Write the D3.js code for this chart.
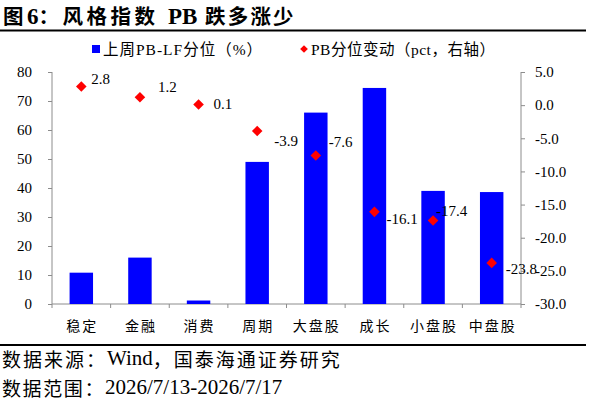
<!doctype html>
<html lang="zh">
<head>
    <meta charset="utf-8"/>
    <title>风格指数 PB 跌多涨少</title>
    <script src="https://d3js.org/d3.v7.min.js"></script>
    <style>
        body { margin: 0; background: #fff; }
        svg { display: block; }
        .serif { font-family: "Liberation Serif", "Noto Sans CJK SC", serif; }
        .cjk { font-family: "Noto Sans CJK SC", "Liberation Serif", sans-serif; }
    </style>
</head>
<body>
<svg id="chart"></svg>

<script>
    // categories and values
    const styles = ["稳定", "金融", "消费", "周期", "大盘股", "成长", "小盘股", "中盘股"];
    const pbPercentile = [10.8, 16.0, 1.2, 49.0, 66.0, 74.5, 39.0, 38.6];
    const pbChange = [2.8, 1.2, 0.1, -3.9, -7.6, -16.1, -17.4, -23.8];
    const leftTicks = [0, 10, 20, 30, 40, 50, 60, 70, 80];
    const rightTicks = [5, 0, -5, -10, -15, -20, -25, -30];

    // where each data label sits relative to its diamond (dx to left edge, dy to middle)
    const labelNudge = [[10, -8], [18, -10], [15, 0], [17, 10], [13, -14], [12, 7], [3, -9], [14, 6]];

    let width = 589,
        height = 401;

    let margin = {left: 52, right: 521, top: 72, bottom: 304};

    // plain hyphen instead of d3's unicode minus, like the original
    let fmt = d => d3.format(".1f")(d).replace("\u2212", "-");

    var svg = d3.select("#chart")
        .attr("width", width)
        .attr("height", height);

    let x = d3.scaleBand()
        .domain(styles)
        .range([margin.left, margin.right])
        .paddingInner(0.6)
        .paddingOuter(0.3);

    let yLeft = d3.scaleLinear()
        .domain([0, 80])
        .range([margin.bottom, margin.top]);

    let yRight = d3.scaleLinear()
        .domain([-30, 5])
        .range([margin.bottom, margin.top]);

    // title + rules
    var title = svg.append("text")
        .attr("x", 3)
        .attr("y", 24)
        .attr("font-size", 20.5)
        .attr("letter-spacing", 3.5)
        .attr("font-weight", "bold")
        .attr("class", "cjk");
    title.append("tspan").text("图");
    title.append("tspan").attr("class", "serif").attr("font-size", 23).attr("letter-spacing", 0).text("6");
    title.append("tspan").text("：风格指数");
    title.append("tspan").attr("x", 168).attr("class", "serif").attr("font-size", 23).attr("letter-spacing", 0).text("PB");
    title.append("tspan").attr("x", 205).attr("letter-spacing", 2.2).text("跌多涨少");

    svg.append("line")
        .attr("x1", 0).attr("x2", 586)
        .attr("y1", 30.5).attr("y2", 30.5)
        .attr("stroke", "#000").attr("stroke-width", 2);

    svg.append("line")
        .attr("x1", 0).attr("x2", 586)
        .attr("y1", 345).attr("y2", 345)
        .attr("stroke", "#000").attr("stroke-width", 2);

    // legend
    var legend = svg.append("g");
    legend.append("rect")
        .attr("x", 92).attr("y", 45)
        .attr("width", 8).attr("height", 8)
        .attr("fill", "#0000ff");
    legend.append("text")
        .attr("x", 103).attr("y", 49)
        .attr("dominant-baseline", "central")
        .attr("font-size", 15.5)
        .attr("letter-spacing", 1)
        .attr("class", "serif")
        .text("上周PB-LF分位（%）");
    legend.append("path")
        .attr("d", d3.symbol(d3.symbolSquare, 30)())
        .attr("transform", "translate(304,49) rotate(45)")
        .attr("fill", "#ff0000");
    legend.append("text")
        .attr("x", 311).attr("y", 49)
        .attr("dominant-baseline", "central")
        .attr("font-size", 15.5)
        .attr("letter-spacing", 0.5)
        .attr("class", "serif")
        .text("PB分位变动（pct，右轴）");

    // axes
    var axisColor = "#8c8c8c";

    var leftAxis = svg.append("g")
        .attr("transform", "translate(" + margin.left + ",0)")
        .call(d3.axisLeft(yLeft).tickValues(leftTicks).tickSize(4).tickPadding(16));

    var rightAxis = svg.append("g")
        .attr("transform", "translate(" + margin.right + ",0)")
        .call(d3.axisRight(yRight).tickValues(rightTicks).tickSize(4).tickPadding(10)
            .tickFormat(fmt));

    [leftAxis, rightAxis].forEach(function (g) {
        g.select(".domain").attr("stroke", axisColor).attr("d", function () {
            return "M0," + margin.top + "V" + margin.bottom;
        });
        g.selectAll(".tick line").attr("stroke", axisColor);
        g.selectAll(".tick text")
            .attr("fill", "#000")
            .attr("font-size", 15)
            .attr("font-family", "Liberation Serif, serif");
    });

    // bottom axis with ticks on band boundaries
    var bottom = svg.append("g");
    bottom.append("line")
        .attr("x1", margin.left).attr("x2", margin.right)
        .attr("y1", margin.bottom).attr("y2", margin.bottom)
        .attr("stroke", axisColor);
    bottom.selectAll("line.tk")
        .data(d3.range(styles.length + 1))
        .enter()
        .append("line")
        .attr("class", "tk")
        .attr("x1", i => margin.left + i * x.step())
        .attr("x2", i => margin.left + i * x.step())
        .attr("y1", margin.bottom)
        .attr("y2", margin.bottom + 4)
        .attr("stroke", axisColor);

    // bars
    svg.append("g").selectAll("rect")
        .data(styles)
        .enter()
        .append("rect")
        .attr("x", d => x(d))
        .attr("width", x.bandwidth())
        .attr("y", (d, i) => yLeft(pbPercentile[i]))
        .attr("height", (d, i) => yLeft(0) - yLeft(pbPercentile[i]))
        .attr("fill", "#0000ff");

    // category labels
    bottom.selectAll("text")
        .data(styles)
        .enter()
        .append("text")
        .attr("x", d => x(d) + x.bandwidth() / 2 + 1)
        .attr("y", 325)
        .attr("text-anchor", "middle")
        .attr("dominant-baseline", "central")
        .attr("font-size", 14)
        .attr("letter-spacing", 2)
        .attr("class", "cjk")
        .text(d => d);

    // diamonds + labels
    var pts = svg.append("g");
    pts.selectAll("path")
        .data(styles)
        .enter()
        .append("path")
        .attr("d", d3.symbol(d3.symbolSquare, 56)())
        .attr("transform", (d, i) => "translate(" + (x(d) + x.bandwidth() / 2) + "," + yRight(pbChange[i]) + ") rotate(45)")
        .attr("fill", "#ff0000");

    pts.selectAll("text")
        .data(styles)
        .enter()
        .append("text")
        .attr("x", (d, i) => x(d) + x.bandwidth() / 2 + labelNudge[i][0])
        .attr("y", (d, i) => yRight(pbChange[i]) + labelNudge[i][1])
        .attr("dominant-baseline", "central")
        .attr("font-size", 15)
        .attr("class", "serif")
        .text((d, i) => fmt(pbChange[i]));

    // source lines
    var src = svg.append("text")
        .attr("x", 2).attr("y", 358)
        .attr("dominant-baseline", "central")
        .attr("class", "cjk")
        .attr("font-size", 19)
        .attr("letter-spacing", 2);
    src.append("tspan").text("数据来源：");
    src.append("tspan").attr("class", "serif").attr("font-size", 21).attr("letter-spacing", 0).text("Wind");
    src.append("tspan").text("，国泰海通证券研究");

    var rng = svg.append("text")
        .attr("x", 2).attr("y", 387)
        .attr("dominant-baseline", "central")
        .attr("class", "cjk")
        .attr("font-size", 19)
        .attr("letter-spacing", 1.6);
    rng.append("tspan").text("数据范围：");
    rng.append("tspan").attr("class", "serif").attr("font-size", 21).attr("letter-spacing", 0).text("2026/7/13-2026/7/17");
</script>
</body>
</html>
